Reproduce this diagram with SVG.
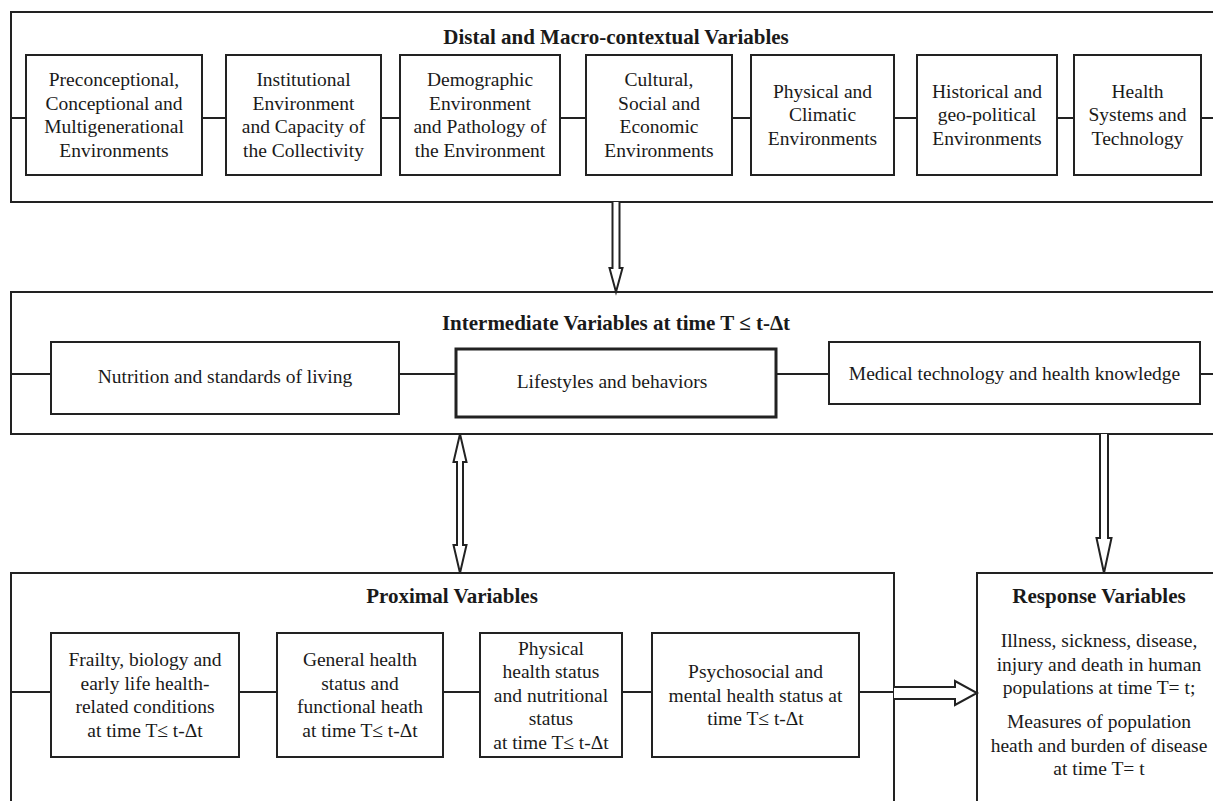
<svg xmlns="http://www.w3.org/2000/svg" width="1213" height="801" viewBox="0 0 1213 801">
<style>
.c{fill:none;stroke:#222;stroke-width:2}
.b{fill:#fff;stroke:#222;stroke-width:2}
.bt{fill:#fff;stroke:#222;stroke-width:3}
.ln{stroke:#222;stroke-width:2;fill:none}
.ar{fill:#fff;stroke:#222;stroke-width:2;stroke-linejoin:miter}
text{font-family:"Liberation Serif","Times New Roman",serif;fill:#1a1a1a;text-anchor:middle}
.t{font-size:21px;font-weight:bold}
.x{font-size:19.5px}
</style>
<rect width="1213" height="801" fill="#fff"/>
<g id="distal">
<rect class="c" x="11" y="12" width="1210" height="190"/>
<text class="t" x="616" y="44">Distal and Macro-contextual Variables</text>
</g>
<g id="intermediate">
<rect class="c" x="11" y="292" width="1210" height="142"/>
<text class="t" x="616" y="330">Intermediate Variables at time T ≤ t-Δt</text>
</g>
<g id="proximal">
<rect class="c" x="11" y="573" width="883" height="240"/>
<text class="t" x="452" y="603">Proximal Variables</text>
</g>
<g id="response">
<rect class="c" x="977" y="573" width="250" height="240"/>
<text class="t" x="1099" y="603">Response Variables</text>
<text class="x" x="1099" y="647">Illness, sickness, disease,</text>
<text class="x" x="1099" y="670.5">injury and death in human</text>
<text class="x" x="1099" y="694">populations at time T= t;</text>
<text class="x" x="1099" y="728">Measures of population</text>
<text class="x" x="1099" y="751.5">heath and burden of disease</text>
<text class="x" x="1099" y="775">at time T= t</text>
</g>
<g id="connectors">
<path class="ln" d="M11 118H26M202 118H226M381 118H400M560 118H586M732 118H751M894 118H917M1057 118H1074M1201 118H1213"/>
<path class="ln" d="M11 374H51M399 374H456M776 374H829M1200 374H1213"/>
<path class="ln" d="M11 692H51M239 692H277M443 692H480M622 692H652M859 692H894"/>
<polyline class="ar" points="612.5,202 612.5,268 609.5,268 616,292 622.5,268 619.5,268 619.5,202"/>
<polygon class="ar" points="460,434 466.5,462 463,462 463,545 466.5,545 460,573 453.5,545 457,545 457,462 453.5,462"/>
<polyline class="ar" points="1100,434 1100,538 1096.5,538 1104,573 1111.5,538 1108,538 1108,434"/>
<polyline class="ar" points="894,687 955,687 955,681 977,693 955,705 955,699 894,699"/>
</g>
<g id="d1"><rect class="b" x="26" y="55" width="176" height="120"/>
<text class="x" x="114" y="86">Preconceptional,</text><text class="x" x="114" y="109.5">Conceptional and</text><text class="x" x="114" y="133">Multigenerational</text><text class="x" x="114" y="156.5">Environments</text></g>
<g id="d2"><rect class="b" x="226" y="55" width="155" height="120"/>
<text class="x" x="303.5" y="86">Institutional</text><text class="x" x="303.5" y="109.5">Environment</text><text class="x" x="303.5" y="133">and Capacity of</text><text class="x" x="303.5" y="156.5">the Collectivity</text></g>
<g id="d3"><rect class="b" x="400" y="55" width="160" height="120"/>
<text class="x" x="480" y="86">Demographic</text><text class="x" x="480" y="109.5">Environment</text><text class="x" x="480" y="133">and Pathology of</text><text class="x" x="480" y="156.5">the Environment</text></g>
<g id="d4"><rect class="b" x="586" y="55" width="146" height="120"/>
<text class="x" x="659" y="86">Cultural,</text><text class="x" x="659" y="109.5">Social and</text><text class="x" x="659" y="133">Economic</text><text class="x" x="659" y="156.5">Environments</text></g>
<g id="d5"><rect class="b" x="751" y="55" width="143" height="120"/>
<text class="x" x="822.5" y="97.5">Physical and</text><text class="x" x="822.5" y="121">Climatic</text><text class="x" x="822.5" y="144.5">Environments</text></g>
<g id="d6"><rect class="b" x="917" y="55" width="140" height="120"/>
<text class="x" x="987" y="97.5">Historical and</text><text class="x" x="987" y="121">geo-political</text><text class="x" x="987" y="144.5">Environments</text></g>
<g id="d7"><rect class="b" x="1074" y="55" width="127" height="120"/>
<text class="x" x="1137.5" y="97.5">Health</text><text class="x" x="1137.5" y="121">Systems and</text><text class="x" x="1137.5" y="144.5">Technology</text></g>
<g id="i1"><rect class="b" x="51" y="342" width="348" height="72"/>
<text class="x" x="225" y="383">Nutrition and standards of living</text></g>
<g id="i2"><rect class="bt" x="456" y="349" width="320" height="68"/>
<text class="x" x="612" y="388">Lifestyles and behaviors</text></g>
<g id="i3"><rect class="b" x="829" y="342" width="371" height="62"/>
<text class="x" x="1014.5" y="379.5">Medical technology and health knowledge</text></g>
<g id="p1"><rect class="b" x="51" y="633" width="188" height="124"/>
<text class="x" x="145" y="666">Frailty, biology and</text><text class="x" x="145" y="689.5">early life health-</text><text class="x" x="145" y="713">related conditions</text><text class="x" x="145" y="736.5">at time T≤ t-Δt</text></g>
<g id="p2"><rect class="b" x="277" y="633" width="166" height="124"/>
<text class="x" x="360" y="666">General health</text><text class="x" x="360" y="689.5">status and</text><text class="x" x="360" y="713">functional heath</text><text class="x" x="360" y="736.5">at time T≤ t-Δt</text></g>
<g id="p3"><rect class="b" x="480" y="633" width="142" height="124"/>
<text class="x" x="551" y="654.5">Physical</text><text class="x" x="551" y="678">health status</text><text class="x" x="551" y="701.5">and nutritional</text><text class="x" x="551" y="725">status</text><text class="x" x="551" y="748.5">at time T≤ t-Δt</text></g>
<g id="p4"><rect class="b" x="652" y="633" width="207" height="124"/>
<text class="x" x="755.5" y="678">Psychosocial and</text><text class="x" x="755.5" y="701.5">mental health status at</text><text class="x" x="755.5" y="725">time T≤ t-Δt</text></g>
</svg>
